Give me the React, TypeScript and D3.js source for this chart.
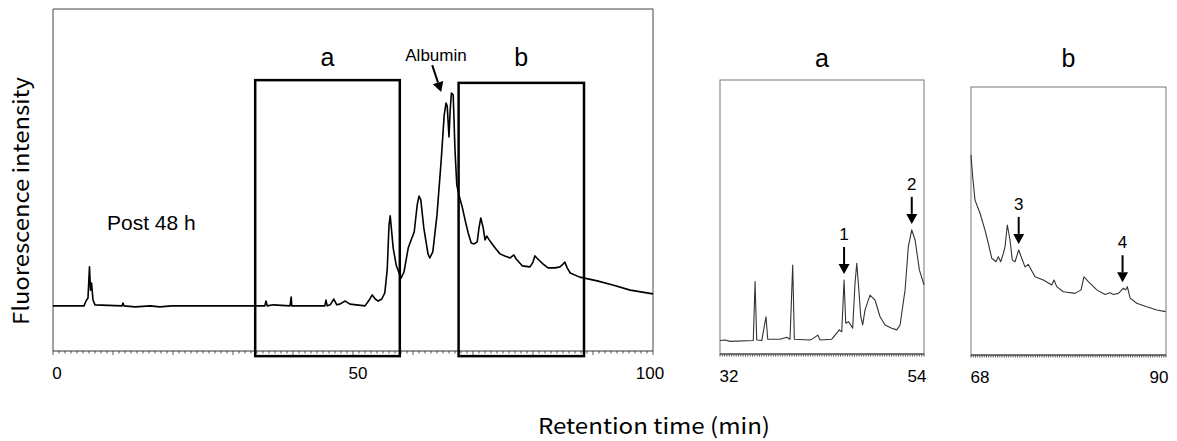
import React, { useRef, useEffect } from "react";
import * as d3 from "d3";

// main chromatogram (0-100 min)
const mainTime = [
  0, 5.17, 5.5, 5.83, 6.08, 6.25, 6.42, 6.67, 7.0, 11.5, 11.67, 11.83, 13.7, 16.2, 17.8, 19.8,
  35.3, 35.5, 35.7, 36.7, 39.5, 39.7, 39.8, 45.3, 45.5, 45.7, 46.2, 46.8, 47.3, 47.8, 48.7,
  49.5, 52.0, 52.7, 53.2, 53.7, 54.2, 54.8, 55.3, 55.7, 56.0, 56.2, 56.3, 56.7, 57.2, 58.0,
  58.5, 59.2, 59.7, 60.2, 60.7, 61.0, 61.3, 61.8, 62.5, 62.8, 63.3, 64.0, 64.7, 65.2, 65.5,
  65.7, 66.0, 66.2, 66.4, 66.7, 67.0, 67.3, 67.7, 68.2, 68.8, 69.2, 69.7, 70.2, 70.7, 71.0,
  71.3, 71.7, 72.0, 72.3, 72.7, 73.2, 73.7, 74.5, 75.3, 76.2, 76.8, 77.2, 78.2, 79.5, 80.0,
  80.3, 80.8, 81.7, 82.5, 83.7, 84.5, 85.0, 85.3, 85.7, 86.2, 87.8, 90.7, 93.3, 96.2, 100,
];
const mainIntensity = [
  13.2, 13.2, 14.6, 15.5, 24.6, 17.8, 19.9, 14.9, 13.5, 13.2, 14.0, 13.2, 12.9, 13.2, 12.9, 13.2,
  13.2, 14.6, 13.2, 13.5, 13.2, 15.8, 13.2, 13.2, 14.9, 13.2, 13.5, 15.2, 13.5, 13.7, 14.6,
  13.7, 13.2, 14.9, 16.4, 15.2, 14.6, 15.2, 17.0, 23.7, 36.8, 39.5, 37.7, 30.1, 25.1, 21.3,
  23.1, 30.1, 32.5, 34.8, 42.7, 45.3, 44.2, 36.0, 28.4, 27.2, 29.0, 39.8, 55.8, 69.0, 72.5,
  71.6, 62.6, 70.5, 75.4, 74.9, 58.8, 48.5, 45.3, 42.1, 37.4, 34.5, 31.6, 31.3, 31.9, 36.0,
  38.9, 36.0, 32.5, 33.6, 32.5, 31.3, 30.1, 28.4, 27.8, 27.2, 28.1, 26.9, 24.9, 24.6, 26.0,
  27.8, 26.9, 25.4, 24.3, 24.3, 24.6, 25.4, 26.0, 24.3, 22.8, 21.6, 20.5, 19.3, 17.8, 16.7,
];

// window a (32-54 min)
const aTime = [
  32.0, 32.54, 33.08, 35.59, 35.78, 35.96, 36.5, 36.96, 37.15, 38.47, 39.2, 39.55, 39.84, 40.02,
  41.71, 42.06, 42.54, 42.79, 44.05, 44.59, 44.87, 45.13, 45.38, 45.56, 45.84, 46.1, 46.31,
  46.56, 46.75, 46.92, 47.18, 47.39, 47.64, 48.18, 48.72, 49.26, 49.8, 50.52, 51.06, 51.42,
  51.96, 52.31, 52.68, 53.04, 53.5, 54.0,
];
const aIntensity = [
  4.9, 5.1, 4.6, 4.9, 26.4, 5.1, 4.9, 13.6, 5.4, 5.4, 6.1, 5.4, 32.5, 5.4,
  5.1, 5.7, 6.9, 5.1, 5.4, 7.6, 8.8, 8.1, 27.0, 11.2, 11.8, 10.6, 9.4,
  25.8, 33.1, 25.8, 13.6, 10.6, 16.1, 21.5, 19.7, 13.6, 10.6, 9.4, 8.8, 10.6,
  23.4, 39.2, 45.3, 41.6, 30.7, 25.2,
];

// window b (68-90 min)
const bTime = [
  68.0, 68.19, 68.45, 69.02, 69.58, 69.95, 70.34, 70.82, 71.08, 71.35, 71.65, 71.84, 72.1, 72.4,
  72.66, 72.97, 73.38, 73.72, 74.09, 74.47, 75.22, 76.16, 77.11, 77.37, 77.67, 78.42, 79.74,
  80.42, 80.75, 81.24, 82.19, 83.12, 83.69, 84.06, 84.63, 85.19, 85.46, 85.64, 85.95, 86.7,
  87.83, 88.96, 89.97,
];
const bIntensity = [
  74.6, 66.5, 57.8, 52.9, 46.6, 41.7, 36.1, 34.8, 36.7, 34.8, 37.9, 40.4, 48.5, 42.9,
  35.4, 34.8, 39.2, 36.1, 32.9, 33.8, 29.2, 28.0, 26.1, 28.0, 25.5, 23.6, 23.0,
  24.3, 29.2, 27.4, 24.3, 22.6, 23.2, 22.6, 23.0, 24.9, 24.3, 25.5, 21.2, 19.3,
  18.0, 16.8, 16.2,
];

const mainTicks = [0, 50, 100];
const aTicks = [32, 54];
const bTicks = [68, 90];
const boxA = [33.7, 57.8];
const boxB = [67.6, 88.5];
const peakLabels = [
  { panel: "a", label: "1", t: 45.38 },
  { panel: "a", label: "2", t: 52.68 },
  { panel: "b", label: "3", t: 73.38 },
  { panel: "b", label: "4", t: 85.1 },
];

const W = 1177;
const H = 441;
const tickFont = "Arial, 'Liberation Sans', sans-serif";
const jpFont = "'Noto Sans CJK JP', sans-serif";

const App = () => {
  const ref = useRef<SVGSVGElement>(null);

  useEffect(() => {
    const svg = d3.select(ref.current);
    svg.selectAll("*").remove();

    const drawAxis = (g, x, ticks, y0, minorStep, majorStep) => {
      const [d0, d1] = x.domain();
      g.append("line")
        .attr("x1", x(d0)).attr("x2", x(d1))
        .attr("y1", y0).attr("y2", y0)
        .attr("stroke", "#333").attr("stroke-width", 1);
      const minors = d3.range(d0, d1 + 0.001, minorStep);
      g.selectAll(".minor")
        .data(minors)
        .enter()
        .append("line")
        .attr("x1", (d) => x(d)).attr("x2", (d) => x(d))
        .attr("y1", y0)
        .attr("y2", (d) => y0 + (majorStep && Math.abs((d - d0) % majorStep) < 0.01 ? 4 : 2.5))
        .attr("stroke", "#444").attr("stroke-width", 0.9);
      g.selectAll(".lbl")
        .data(ticks)
        .enter()
        .append("text")
        .attr("class", "lbl")
        .attr("x", (d) => x(d))
        .attr("y", y0 + 28)
        .attr("text-anchor", "middle")
        .attr("font-family", tickFont)
        .attr("font-size", 17)
        .text((d) => d);
    };

    // ---- main chart ----
    const x = d3.scaleLinear().domain([0, 100]).range([53, 653]);
    const y = d3.scaleLinear().domain([0, 100]).range([351, 9]);
    const main = svg.append("g");
    main.append("path")
      .attr("d", `M${x(0)},${y(0)}V${y(100)}H${x(100)}V${y(0)}`)
      .attr("fill", "none").attr("stroke", "#444").attr("stroke-width", 1);
    drawAxis(main, x, mainTicks, y(0), 1, 10);
    main.selectAll(".lbl").attr("dx", (d, i) => [4, 5, -3][i]);

    const mainData = mainTime.map((t, i) => [t, mainIntensity[i]]);
    main.append("path")
      .datum(mainData)
      .attr("d", d3.line().x((d) => x(d[0])).y((d) => y(d[1])))
      .attr("fill", "none").attr("stroke", "#000").attr("stroke-width", 1.6)
      .attr("stroke-linejoin", "round");

    // boxes
    [[boxA, 79.2, "a"], [boxB, 78.4, "b"]].forEach(([b, top, name]) => {
      main.append("rect")
        .attr("x", x(b[0])).attr("y", y(top))
        .attr("width", x(b[1]) - x(b[0]))
        .attr("height", y(-1.5) - y(top))
        .attr("fill", "none").attr("stroke", "#000").attr("stroke-width", 2.5);
      main.append("text")
        .attr("x", (x(b[0]) + x(b[1])) / 2)
        .attr("y", 66)
        .attr("text-anchor", "middle")
        .attr("font-family", tickFont)
        .attr("font-size", 25)
        .text(name);
    });

    main.append("text")
      .attr("x", 436).attr("y", 61)
      .attr("text-anchor", "middle")
      .attr("font-family", tickFont)
      .attr("font-size", 17)
      .text("Albumin");
    const arrow = (g, x1, y1, x2, y2) => {
      const ang = Math.atan2(y2 - y1, x2 - x1);
      const hl = 10, hw = 5.5;
      const bx = x2 - hl * Math.cos(ang), by = y2 - hl * Math.sin(ang);
      g.append("line")
        .attr("x1", x1).attr("y1", y1).attr("x2", bx).attr("y2", by)
        .attr("stroke", "#000").attr("stroke-width", 2);
      g.append("path")
        .attr("d", `M${x2},${y2}L${bx - hw * Math.sin(ang)},${by + hw * Math.cos(ang)}L${bx + hw * Math.sin(ang)},${by - hw * Math.cos(ang)}Z`)
        .attr("fill", "#000");
    };
    arrow(main, x(63.2), y(83.6), x(64.7), y(75.7));

    main.append("text")
      .attr("x", 107).attr("y", 230)
      .attr("font-family", tickFont)
      .attr("font-size", 21)
      .text("Post 48 h");

    // ---- zoom panels ----
    const panel = (t, v, ticks, name, x0, x1, top, bottom) => {
      const px = d3.scaleLinear().domain([ticks[0], ticks[1]]).range([x0, x1]);
      const py = d3.scaleLinear().domain([0, 100]).range([bottom, top]);
      const g = svg.append("g");
      g.append("rect")
        .attr("x", x0).attr("y", top).attr("width", x1 - x0).attr("height", bottom - top)
        .attr("fill", "none").attr("stroke", "#777").attr("stroke-width", 1);
      drawAxis(g, px, ticks, bottom, 0.25, 0);
      g.selectAll(".lbl").attr("dx", (d, i) => (i === 0 ? 9 : -7)).attr("y", bottom + 28);
      g.append("path")
        .datum(t.map((d, i) => [d, v[i]]))
        .attr("d", d3.line().x((d) => px(d[0])).y((d) => py(d[1])))
        .attr("fill", "none").attr("stroke", "#333").attr("stroke-width", 1.1)
        .attr("stroke-linejoin", "round");
      g.append("text")
        .attr("x", (x0 + x1) / 2)
        .attr("y", 67)
        .attr("text-anchor", "middle")
        .attr("font-family", tickFont)
        .attr("font-size", 25)
        .text(name);
      peakLabels
        .filter((p) => p.panel === name)
        .forEach((p) => {
          const i = d3.bisectLeft(t, p.t);
          const tip = py(v[Math.min(i, v.length - 1)]) - 6;
          const cx = px(p.t);
          arrow(g, cx, tip - 27, cx, tip);
          g.append("text")
            .attr("x", cx).attr("y", tip - 34)
            .attr("text-anchor", "middle")
            .attr("font-family", tickFont)
            .attr("font-size", 17)
            .text(p.label);
        });
    };
    panel(aTime, aIntensity, aTicks, "a", 720, 924, 80, 354);
    panel(bTime, bIntensity, bTicks, "b", 971, 1166, 87, 355);

    // axis titles
    svg.append("text")
      .attr("transform", "translate(29,201) rotate(-90)")
      .attr("text-anchor", "middle")
      .attr("font-family", jpFont)
      .attr("font-size", 22)
      .attr("textLength", 248)
      .attr("lengthAdjust", "spacingAndGlyphs")
      .text("Fluorescence intensity");
    svg.append("text")
      .attr("x", 654).attr("y", 434)
      .attr("text-anchor", "middle")
      .attr("font-family", jpFont)
      .attr("font-size", 22)
      .attr("textLength", 232)
      .attr("lengthAdjust", "spacingAndGlyphs")
      .text("Retention time (min)");
  }, []);

  return (
    <svg
      ref={ref}
      width={W}
      height={H}
      style={{ position: "absolute", left: 0, top: 0, background: "#fff" }}
    />
  );
};

export default App;
